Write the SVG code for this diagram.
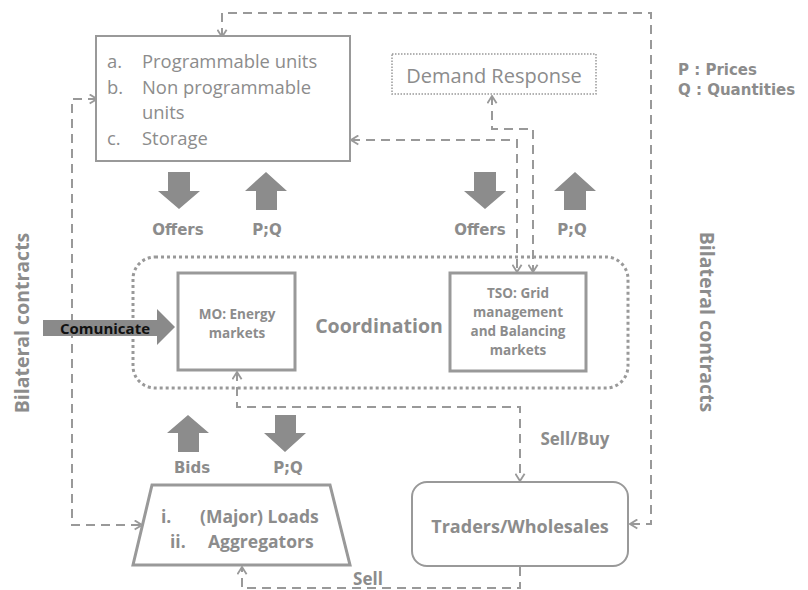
<svg xmlns="http://www.w3.org/2000/svg" width="808" height="590" viewBox="0 0 808 590">
<style>
.bg{fill:#ffffff}
.box{fill:#ffffff;stroke:#999999}
.reg{font-family:"Open Sans","Liberation Sans",sans-serif;fill:#8c8c8c}
.bold{font-family:"Open Sans","Liberation Sans",sans-serif;font-weight:bold;fill:#8c8c8c}
.verd{font-family:"DejaVu Sans","Liberation Sans",sans-serif;font-weight:bold;fill:#8c8c8c;font-size:15px}
.blk{fill:#8c8c8c}
.dash{fill:none;stroke:#999999;stroke-width:2;stroke-dasharray:9 6}
</style>
<defs>
<marker id="chev" viewBox="0 0 10 12" refX="9" refY="6" markerWidth="10" markerHeight="11" markerUnits="userSpaceOnUse" orient="auto-start-reverse">
<path d="M1,1 L9,6 L1,11" fill="none" stroke="#999999" stroke-width="2"/>
</marker>
</defs>
<rect class="bg" x="0" y="0" width="808" height="590"/>

<g id="connectors">
<path class="dash" d="M222 37 V13 H651 V524 H630" marker-start="url(#chev)" marker-end="url(#chev)"/>
<path class="dash" d="M97 99 H72 V525 H142" marker-start="url(#chev)" marker-end="url(#chev)"/>
<path class="dash" d="M351 140 H517 V272" marker-start="url(#chev)" marker-end="url(#chev)"/>
<path class="dash" d="M492 96 V129 H533 V272" marker-start="url(#chev)" marker-end="url(#chev)"/>
<path class="dash" d="M237 372 V407 H520 V481" marker-start="url(#chev)" marker-end="url(#chev)"/>
<path class="dash" d="M520 567 V588 H242 V567" marker-end="url(#chev)"/>
</g>

<g id="coordination">
<rect x="133" y="257" width="495" height="131" rx="22" ry="22" fill="none" stroke="#999999" stroke-width="3" stroke-dasharray="3 3"/>
<text class="bold" x="379" y="333" font-size="19.5" text-anchor="middle">Coordination</text>
</g>

<g id="generators">
<rect class="box" x="96" y="36" width="254" height="125" stroke-width="2"/>
<g class="reg" font-size="18.4">
<text x="107" y="68">a.</text><text x="142" y="68">Programmable units</text>
<text x="107" y="93.5">b.</text><text x="142" y="93.5">Non programmable</text>
<text x="142" y="119">units</text>
<text x="107" y="144.5">c.</text><text x="142" y="144.5">Storage</text>
</g>
</g>

<g id="demand-response">
<rect x="392" y="54" width="204" height="40" fill="none" stroke="#999999" stroke-width="1.5" stroke-dasharray="1.5 1.5"/>
<text class="reg" x="494" y="83" font-size="20" text-anchor="middle" fill="#999999">Demand Response</text>
</g>

<g id="legend">
<text class="verd" x="678" y="75">P : Prices</text>
<text class="verd" x="678" y="95">Q : Quantities</text>
</g>

<g id="flows-top">
<polygon class="blk" points="168,172 190,172 190,191 200,191 179,209 158,191 168,191"/>
<polygon class="blk" points="245,191 266,172 287,191 277,191 277,210 256,210 256,191"/>
<polygon class="blk" points="474,172 496,172 496,191 506,191 485,209 464,191 474,191"/>
<polygon class="blk" points="554,191 575,172 596,191 586,191 586,210 564,210 564,191"/>
<text class="verd" x="178" y="235" text-anchor="middle">Offers</text>
<text class="verd" x="267" y="235" text-anchor="middle">P;Q</text>
<text class="verd" x="480" y="235" text-anchor="middle">Offers</text>
<text class="verd" x="572" y="235" text-anchor="middle">P;Q</text>
</g>

<g id="mo">
<rect class="box" x="178" y="273" width="117" height="97" stroke-width="3"/>
<text class="bold" x="237" y="319" font-size="13.5" text-anchor="middle">MO: Energy</text>
<text class="bold" x="237" y="338" font-size="13.5" text-anchor="middle">markets</text>
</g>

<g id="tso">
<rect class="box" x="450" y="273" width="136" height="98" stroke-width="3"/>
<g class="bold" font-size="13.5" text-anchor="middle">
<text x="518" y="298">TSO: Grid</text>
<text x="518" y="317">management</text>
<text x="518" y="336">and Balancing</text>
<text x="518" y="355">markets</text>
</g>
</g>

<g id="comunicate">
<polygon fill="#8a8a8a" points="43,320 157,320 157,309 175,327 157,345 157,336 43,336"/>
<text x="105" y="334" font-family="Open Sans, Liberation Sans, sans-serif" font-weight="bold" font-size="15" fill="#111111" text-anchor="middle">Comunicate</text>
</g>

<g id="flows-bottom">
<polygon class="blk" points="167,433 188,415 209,433 199,433 199,452 178,452 178,433"/>
<polygon class="blk" points="275,415 296,415 296,433 306,433 285,452 264,433 275,433"/>
<text class="verd" x="192" y="473" text-anchor="middle">Bids</text>
<text class="verd" x="288" y="473" text-anchor="middle">P;Q</text>
</g>

<g id="loads">
<polygon class="box" points="152,485 330,485 350,565 133,565" stroke-width="3"/>
<g class="bold" font-size="17.5">
<text x="161" y="523">i.</text><text x="200" y="523">(Major) Loads</text>
<text x="170" y="548">ii.</text><text x="208" y="548">Aggregators</text>
</g>
</g>

<g id="traders">
<rect class="box" x="412" y="482" width="216" height="84" rx="15" ry="15" stroke-width="2"/>
<text class="bold" x="520" y="533" font-size="18" text-anchor="middle">Traders/Wholesales</text>
</g>

<g id="labels">
<text class="bold" x="575" y="445" font-size="17" text-anchor="middle">Sell/Buy</text>
<text class="bold" x="368" y="585" font-size="17" text-anchor="middle">Sell</text>
<text class="bold" font-size="19.5" text-anchor="middle" transform="translate(29,323) rotate(-90)">Bilateral contracts</text>
<text class="bold" font-size="19.5" text-anchor="middle" transform="translate(700,322) rotate(90)">Bilateral contracts</text>
</g>
</svg>
